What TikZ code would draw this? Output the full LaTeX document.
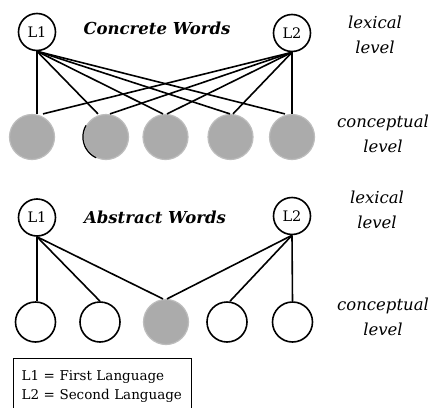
\documentclass[tikz,border=0pt]{standalone}
\usepackage{fontspec}
\setmainfont{DejaVu Serif}
\begin{document}
\begin{tikzpicture}[x=1pt,y=-1pt,
  lang/.style={circle,draw,line width=1.6pt,minimum size=37pt,inner sep=0pt,font=\fontsize{14.5}{16}\selectfont},
  concept/.style={circle,fill=black!33,draw=black!26,line width=1.2pt,minimum size=45pt,inner sep=0pt},
  emptyc/.style={circle,draw,line width=1.6pt,minimum size=40pt,inner sep=0pt},
  link/.style={line width=1.6pt},
  title/.style={font=\bfseries\itshape\fontsize{16.5}{19}\selectfont},
  levellab/.style={align=center,font=\itshape\fontsize{16.5}{25}\selectfont},
]
\useasboundingbox[fill=white] (0,0) rectangle (431,407);

% ---- concrete words ----
\node[lang] (L1a) at (37,32) {L1};
\node[lang] (L2a) at (292,33) {L2};
\node[title] (ct) at (157,28) {Concrete Words};
\node[levellab] (lexa) at (375,35) {lexical\\level};

\node[concept] (g1) at (32,137) {};
\node[concept] (g2) at (106,137) {};
\node[concept] (g3) at (165.5,137) {};
\node[concept] (g4) at (230.5,137) {};
\node[concept] (g5) at (292,137) {};
\node[levellab] (cona) at (383,134) {conceptual\\level};
% dark rim on the left of the second concept
\draw[line width=1.2pt] (g2.150) arc[start angle=150,end angle=245,radius=23pt];

\foreach \t/\dx in {g1/5,g2/-8,g3/-2.5,g4/-0.5,g5/-7}
  \draw[link] (L1a.south) -- ([xshift=\dx pt]\t.north);
\foreach \t/\dx in {g1/11,g2/4,g3/1.5,g4/2.5,g5/0}
  \draw[link] (L2a.south) -- ([xshift=\dx pt]\t.north);

% ---- abstract words ----
\node[lang] (L1b) at (37,217.5) {L1};
\node[lang] (L2b) at (292,216) {L2};
\node[title] (at) at (155,217) {Abstract Words};
\node[levellab] (lexb) at (377,210) {lexical\\level};

\node[emptyc] (c1) at (35.5,322) {};
\node[emptyc] (c2) at (100,322) {};
\node[concept] (c3) at (166,322) {};
\node[emptyc] (c4) at (227,322) {};
\node[emptyc] (c5) at (292.5,322) {};
\node[levellab] (conb) at (383,317) {conceptual\\level};

\draw[link] (L1b.south) -- ([xshift=1.5pt]c1.north);
\draw[link] (L1b.south) -- (c2.north);
\draw[link] (L1b.south) -- ([xshift=-3pt]c3.north);
\draw[link] (L2b.south) -- ([xshift=1pt]c3.north);
\draw[link] (L2b.south) -- ([xshift=3pt]c4.north);
\draw[link] (L2b.south) -- (c5.north);

% ---- legend ----
\node[draw,line width=1.3pt,anchor=north west,minimum height=60pt,
      align=left,inner ysep=0pt,inner xsep=8pt,text width=162pt,font=\fontsize{13.5}{19}\selectfont] (key) at (13,358)
      {\\[-13pt]L1 = First Language\\L2 = Second Language\\[10pt]};
\end{tikzpicture}
\end{document}
